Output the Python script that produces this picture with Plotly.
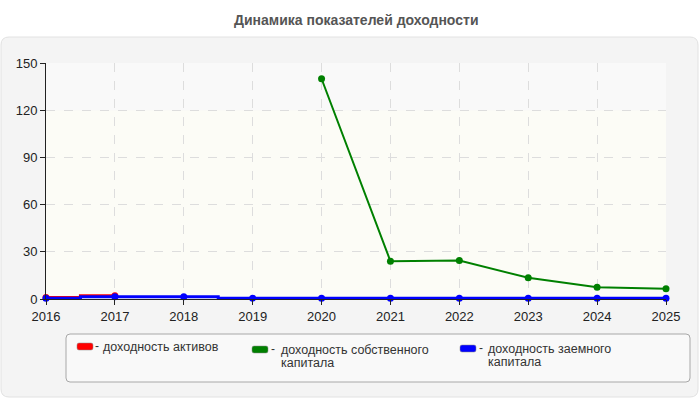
import plotly.graph_objects as go

years = [2016, 2017, 2018, 2019, 2020, 2021, 2022, 2023, 2024, 2025]
roa = [1.0, 2.0, None, None, None, None, None, None, None, None]
roe = [None, None, None, None, 140.0, 24.0, 24.5, 13.5, 7.5, 6.5]
rod = [0.5, 1.5, 1.5, 0.5, 0.5, 0.5, 0.5, 0.5, 0.5, 0.5]
y_ticks = [0, 30, 60, 90, 120, 150]
names = [["доходность активов"], ["доходность собственного", "капитала"], ["доходность заемного", "капитала"]]
colors = ["#ff0000", "#008000", "#0000ff"]

W, H = 700, 400
L, R, T, B = 46, 666, 63, 299
pw, ph = R - L, B - T

def px(x):
    return (x - L) / pw

def py(y):
    return (B - y) / ph

fig = go.Figure()
fig.add_trace(go.Scatter(x=years, y=roa, mode="lines+markers", line=dict(color=colors[0], width=3, shape="hvh"),
                         marker=dict(size=7, color=colors[0]), showlegend=False, connectgaps=False))
fig.add_trace(go.Scatter(x=years, y=roe, mode="lines+markers", line=dict(color=colors[1], width=2),
                         marker=dict(size=7, color=colors[1]), showlegend=False))
fig.add_trace(go.Scatter(x=years, y=rod, mode="lines+markers", line=dict(color=colors[2], width=3, shape="hvh"),
                         marker=dict(size=7, color=colors[2]), showlegend=False))

def rounded(x0, y0, x1, y1, r):
    def P(x, y):
        return f"{px(x)},{py(y)}"
    return (f"M {P(x0 + r, y0)} L {P(x1 - r, y0)} Q {P(x1, y0)} {P(x1, y0 + r)} "
            f"L {P(x1, y1 - r)} Q {P(x1, y1)} {P(x1 - r, y1)} L {P(x0 + r, y1)} "
            f"Q {P(x0, y1)} {P(x0, y1 - r)} L {P(x0, y0 + r)} Q {P(x0, y0)} {P(x0 + r, y0)} Z")

shapes = [
    dict(type="path", xref="paper", yref="paper", path=rounded(1, 37, 698, 397, 8),
         fillcolor="#f4f4f4", line=dict(color="#e2e2e2", width=1), layer="below"),
    dict(type="path", xref="paper", yref="paper", path=rounded(66, 334, 690, 382, 4),
         fillcolor="#f9f9f9", line=dict(color="#a8a8a8", width=1), layer="below"),
    dict(type="rect", xref="x", yref="y", x0=2016, x1=2025, y0=0, y1=120,
         fillcolor="#fcfcf6", line=dict(width=0), layer="below"),
    dict(type="rect", xref="x", yref="y", x0=2016, x1=2025, y0=120, y1=150,
         fillcolor="#f9f9f9", line=dict(width=0), layer="below"),
]

FONT = "Liberation Sans, Arial"
annotations = [dict(text="<b>Динамика показателей доходности</b>", x=0.5, xref="paper",
                    y=py(20), yref="paper", showarrow=False, xanchor="center", yanchor="middle",
                    font=dict(size=14, color="#555555", family=FONT))]

# legend: (swatch x, swatch top y, dash x, text x, first line center y)
legend_items = [(77, 343, 94, 103, 347), (252, 346, 270, 281, 350), (460, 345, 478, 488, 349)]
for (sx, sy, dx, tx, ly), lines, c in zip(legend_items, names, colors):
    shapes.append(dict(type="path", xref="paper", yref="paper", path=rounded(sx, sy, sx + 16, sy + 7, 2),
                       fillcolor=c, line=dict(color="#888888", width=0.5)))
    annotations.append(dict(text="-", x=px(dx), xref="paper", y=py(ly - 1), yref="paper",
                            showarrow=False, xanchor="left", yanchor="middle", borderpad=0,
                            font=dict(size=12, color="#333333", family=FONT)))
    for i, ln in enumerate(lines):
        annotations.append(dict(text=ln, x=px(tx - 1), xref="paper", y=py(ly + 13 * i), yref="paper",
                                showarrow=False, xanchor="left", yanchor="middle", align="left",
                                borderpad=0,
                                font=dict(size=12.5, color="#333333", family=FONT)))

fig.update_layout(
    width=W, height=H,
    margin=dict(l=L, r=W - R, t=T, b=H - B),
    paper_bgcolor="white",
    plot_bgcolor="rgba(0,0,0,0)",
    font=dict(family=FONT, size=12, color="#222222"),
    shapes=shapes,
    annotations=annotations,
    showlegend=False,
    xaxis=dict(range=[2016, 2025], tickvals=years, ticktext=[str(y) for y in years],
               showgrid=True, gridcolor="#dddddd", griddash="dash", gridwidth=1,
               showline=True, linecolor="#222222", linewidth=1, ticks="outside", ticklen=5,
               tickcolor="#222222", zeroline=False, tickfont=dict(size=13)),
    yaxis=dict(range=[0, 150], tickvals=y_ticks, showgrid=True, gridcolor="#dddddd", griddash="dash",
               gridwidth=1, showline=True, linecolor="#222222", linewidth=1, ticks="outside", ticklen=5,
               tickcolor="#222222", zeroline=False, tickfont=dict(size=13)),
)
fig.update_traces(cliponaxis=False)

fig.write_html("out.html")
